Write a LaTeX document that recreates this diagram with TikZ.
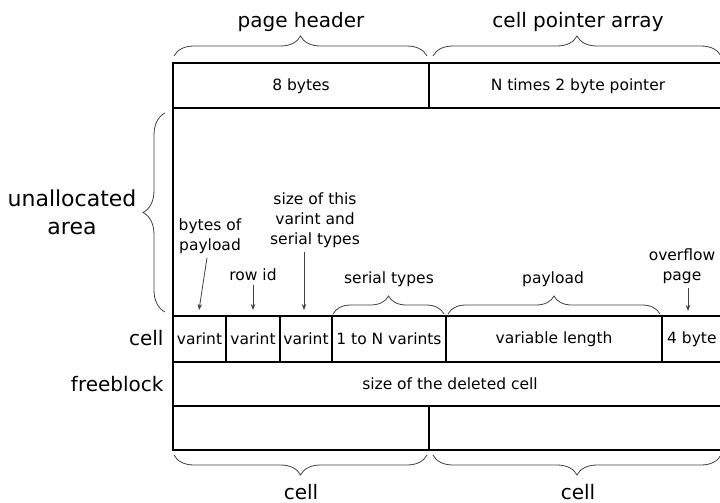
\documentclass[tikz,border=0pt]{standalone}
\usepackage{fontspec}
\setmainfont{DejaVu Sans}
\usetikzlibrary{arrows.meta,decorations.pathreplacing}

\begin{document}
\begin{tikzpicture}[x=1pt,y=1pt,>={Stealth[length=6pt,width=4.5pt]},
  frame/.style={line width=1.5pt},
  brc/.style={decorate,decoration={brace,amplitude=#1},line width=0.8pt,draw=black!75},
  brc/.default=20pt,
  ptr/.style={->,line width=0.8pt,draw=black!75},
  big/.style={font=\fontsize{20}{28}\selectfont,align=center},
  small/.style={font=\fontsize{15.5}{20}\selectfont,align=center,inner sep=1pt}]

\useasboundingbox (0,-503) rectangle (720,0);

% page layout
\coordinate (nw) at (173,-63);
\coordinate (se) at (727,-450);
\draw[frame] (nw) rectangle (se);
\foreach \y in {108,316,362,406} \draw[frame] (173,-\y) -- (727,-\y);
\draw[frame] (429,-63) -- (429,-108) (429,-406) -- (429,-450);
\foreach \x in {226,280,332,446,662} \draw[frame] (\x,-316) -- (\x,-362);

% braces
\draw[brc] (174,-56) -- (427,-56);
\draw[brc] (433,-56) -- (721,-56);
\draw[brc=22pt] (165,-312) -- (165,-113);
\draw[brc=18pt] (333,-314) -- (444,-314);
\draw[brc=18pt] (448,-314) -- (660,-314);
\draw[brc] (427,-455) -- (174,-455);
\draw[brc] (721,-455) -- (433,-455);

% texts in the rows
\node[small] (hdr) at (301,-86) {8 bytes};
\node[small] (ptrs) at (578,-86) {N times 2 byte pointer};
\node[small] (v1) at (199.5,-339) {varint};
\node[small] (v2) at (253,-339) {varint};
\node[small] (v3) at (306,-339) {varint};
\node[small] (stypes) at (389,-339) {1 to N varints};
\node[small] (vlen) at (554,-339) {variable length};
\node[small,anchor=west] (ovfl) at (666,-339) {4 byte};
\node[small] (free) at (450,-384) {size of the deleted cell};

% labels
\node[big] (lHdr) at (301,-22) {page header};
\node[big] (lPtr) at (578,-22) {cell pointer array};
\node[big,font=\fontsize{22}{28}\selectfont] (lUnal) at (72,-212) {unallocated\\area};
\node[big,anchor=east] (lCell) at (167,-338) {cell};
\node[big,anchor=east] (lFree) at (167,-384) {freeblock};
\node[big] (lCellA) at (301,-492) {cell};
\node[big] (lCellB) at (578,-492) {cell};

\node[small] (lBytes) at (210,-236) {bytes of\\payload};
\node[small] (lRow) at (253,-275) {row id};
\node[small] (lSize) at (315,-220) {size of this\\varint and\\serial types};
\node[small] (lSer) at (389,-279) {serial types};
\node[small] (lPay) at (553,-279) {payload};
\node[small] (lOvfl) at (682,-266) {overflow\\page};

% pointers to the cell
\coordinate (hBytes) at (199,-310);
\coordinate (hRow) at (253,-310);
\coordinate (hSize) at (304,-310);
\coordinate (hOvfl) at (688,-311);
\draw[ptr] ([xshift=-3pt,yshift=-3pt]lBytes.south) -- (hBytes);
\draw[ptr] ([yshift=-3pt]lRow.south) -- (hRow);
\draw[ptr] ([xshift=-11pt,yshift=-3pt]lSize.south) -- (hSize);
\draw[ptr] ([xshift=6pt,yshift=-3pt]lOvfl.south) -- (hOvfl);
\end{tikzpicture}
\end{document}
